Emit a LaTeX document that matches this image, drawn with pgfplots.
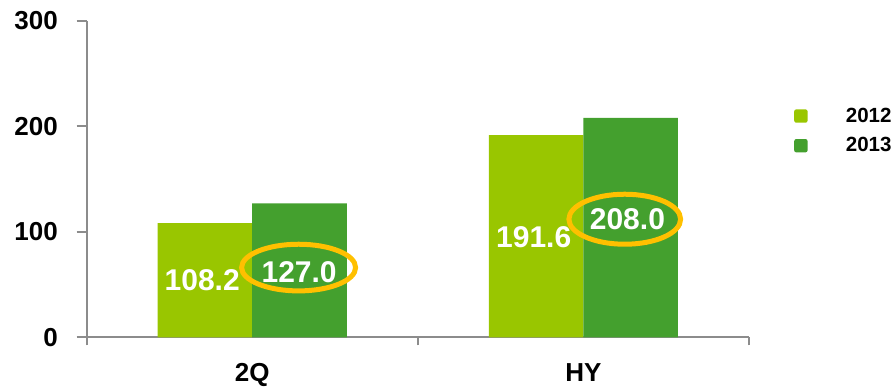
\documentclass[border=0pt]{standalone}
\usepackage{fontspec}
\setmainfont{Liberation Sans}
\usepackage{pgfplots}
\pgfplotsset{compat=1.18}

\definecolor{lightgr}{RGB}{153,198,0}
\definecolor{darkgr}{RGB}{68,160,46}
\definecolor{axisgray}{RGB}{140,140,140}
\definecolor{ring}{RGB}{255,192,0}

\pgfplotsset{
  sq legend/.style={legend image code/.code={%
    \fill[##1, rounded corners=1.5pt] (0pt,-5pt) rectangle (10pt,5pt);}},
}

\begin{document}
\begin{tikzpicture}
\useasboundingbox (-65.0pt,-37.3pt) rectangle (604pt,253pt);
\begin{axis}[
  scale only axis,
  width=496.7pt, height=237.5pt,
  ybar=0pt, bar width=70.9pt,
  xmin=-0.5, xmax=1.5,
  ymin=0, ymax=300,
  clip=false,
  axis lines*=left,
  axis line style={-, draw=axisgray, line width=1.5pt},
  tick style={draw=axisgray, line width=1.5pt},
  tick align=outside,
  major tick length=7.5pt,
  ytick={0,100,200,300},
  yticklabels={0,100,200,300},
  yticklabel style={font=\fontsize{19.5}{22}\selectfont\bfseries, anchor=east, inner sep=0pt, xshift=-14pt},
  xtick={0,1},
  xticklabels={2Q,HY},
  x tick style={draw=none},
  xticklabel style={font=\fontsize{19.5}{22}\selectfont\bfseries, anchor=base, inner sep=0pt, yshift=-25.9pt},
  extra x ticks={-0.5,0.5,1.5},
  extra x tick labels={},
  extra x tick style={major tick length=6pt, x tick style={draw=axisgray, line width=1.5pt}},
  legend style={at={(1.068,0.652)}, anchor=west, draw=none, fill=none,
    inner sep=0pt, nodes={inner sep=0pt},
    font=\fontsize{15.4}{17}\selectfont\bfseries,
    row sep=10pt,
    /tikz/every odd column/.append style={column sep=28.7pt}},
  legend cell align=left,
]
\addplot[fill=lightgr, draw=none, sq legend] coordinates {(0,108.2) (1,191.6)};
\addplot[fill=darkgr, draw=none, sq legend] coordinates {(0,127.0) (1,208.0)};
\legend{2012,2013}

% highlight rings around the 2013 values
\draw[ring, line width=3.75pt] (axis cs:0.14,66.1) ellipse [x radius=42.75pt, y radius=17.5pt];
\draw[ring, line width=3.75pt] (axis cs:1.125,111.9) ellipse [x radius=41.9pt, y radius=18.75pt];

% value labels
\begin{scope}[every node/.style={text=white, inner sep=0pt, font=\fontsize{22.5}{26}\selectfont\bfseries}]
\node at (axis cs:-0.151,54.3) {108.2};
\node at (axis cs:0.1416,61.4) {127.0};
\node at (axis cs:0.850,95.3) {191.6};
\node at (axis cs:1.133,111.9) {208.0};
\end{scope}
\end{axis}
\end{tikzpicture}
\end{document}
